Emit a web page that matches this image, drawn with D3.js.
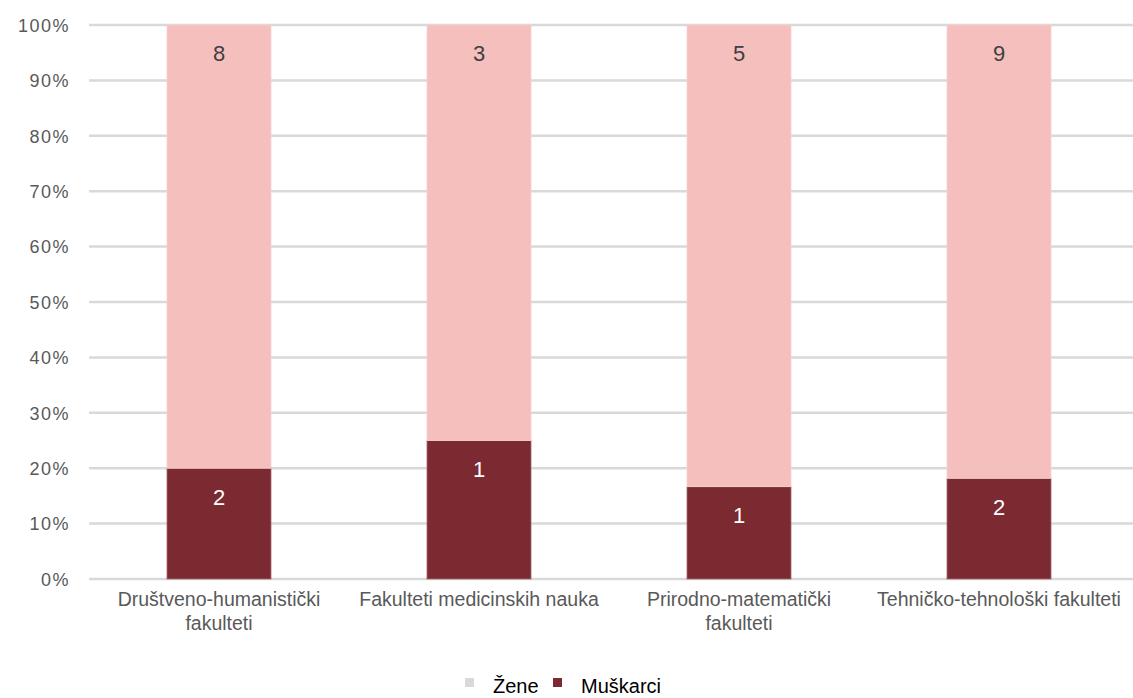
<html>
<head>
<title>Fakulteti</title>
<style>
body { margin: 0; background: #fff; }
.tick text { font-family: "Liberation Sans", Arial, sans-serif; }
</style>
<script src="https://d3js.org/d3.v7.min.js"></script>
</head>
<body>
<div id="chart"></div>
<script>
// data
var categories = ["Društveno-humanistički fakulteti", "Fakulteti medicinskih nauka", "Prirodno-matematički fakulteti", "Tehničko-tehnološki fakulteti"];
var categoryLines = [["Društveno-humanistički", "fakulteti"], ["Fakulteti medicinskih nauka"], ["Prirodno-matematički", "fakulteti"], ["Tehničko-tehnološki fakulteti"]];
var zene = [8, 3, 5, 9];
var muskarci = [2, 1, 1, 2];
var seriesNames = ["Žene", "Muškarci"];
var yTicks = [0, 0.1, 0.2, 0.3, 0.4, 0.5, 0.6, 0.7, 0.8, 0.9, 1];

var W = 1133, H = 698;
var margin = {top: 25, right: 4, bottom: 119, left: 89};
var width = W - margin.left - margin.right;
var height = H - margin.top - margin.bottom;

var narrow = "'Liberation Sans Narrow', 'Arial Narrow', 'Liberation Sans', sans-serif";

var svg = d3.select("#chart").append("svg")
  .attr("width", W).attr("height", H)
  .append("g")
  .attr("transform", "translate(" + margin.left + "," + margin.top + ")");

var x = d3.scaleBand().domain(categories).range([0, 1040]).paddingInner(0.6).paddingOuter(0.3);
var y = d3.scaleLinear().domain([0, 1]).range([height, 0]);

// gridlines
svg.selectAll("line.grid").data(yTicks).enter().append("line")
  .attr("class", "grid")
  .attr("x1", 0).attr("x2", width + 10)
  .attr("y1", function(d){ return y(d); })
  .attr("y2", function(d){ return y(d); })
  .attr("stroke", "#d9d9d9").attr("stroke-width", 2.5);

// y axis
var yAxis = svg.append("g")
  .call(d3.axisLeft(y).tickValues(yTicks).tickFormat(d3.format(".0%")).tickSize(0).tickPadding(19));
yAxis.select(".domain").remove();
yAxis.selectAll("text").attr("fill", "#595959").style("font-size", "18px").style("letter-spacing", "1.5px").attr("dy", "0.35em");

var rows = categories.map(function(c, i){
  var t = zene[i] + muskarci[i];
  return {cat: c, m: muskarci[i], z: zene[i], mp: muskarci[i] / t};
});

// Muškarci (bottom)
svg.selectAll("rect.m").data(rows).enter().append("rect")
  .attr("x", function(d){ return x(d.cat); })
  .attr("width", x.bandwidth())
  .attr("y", function(d){ return y(d.mp); })
  .attr("height", function(d){ return y(0) - y(d.mp); })
  .attr("fill", "#7b2a31").attr("stroke", "#a8676b").attr("stroke-width", 0.8);

// Žene (top)
svg.selectAll("rect.z").data(rows).enter().append("rect")
  .attr("x", function(d){ return x(d.cat); })
  .attr("width", x.bandwidth())
  .attr("y", y(1))
  .attr("height", function(d){ return y(d.mp) - y(1); })
  .attr("fill", "#f5bfbe").attr("stroke", "#f7d3d2").attr("stroke-width", 0.8);

// labels
svg.selectAll("text.zl").data(rows).enter().append("text")
  .attr("x", function(d){ return x(d.cat) + x.bandwidth() / 2; })
  .attr("y", y(1) + 28)
  .attr("dy", "0.35em")
  .attr("text-anchor", "middle")
  .attr("fill", "#404040")
  .style("font-family", "'Liberation Sans', Arial, sans-serif")
  .style("font-size", "22px")
  .text(function(d){ return d.z; });

svg.selectAll("text.ml").data(rows).enter().append("text")
  .attr("x", function(d){ return x(d.cat) + x.bandwidth() / 2; })
  .attr("y", function(d){ return y(d.mp) + 29; })
  .attr("dy", "0.35em")
  .attr("text-anchor", "middle")
  .attr("fill", "#ffffff")
  .style("font-family", "'Liberation Sans', Arial, sans-serif")
  .style("font-size", "22px")
  .text(function(d){ return d.m; });

// category labels
var catG = svg.selectAll("text.cat").data(categories).enter().append("text")
  .attr("x", function(d){ return x(d) + x.bandwidth() / 2; })
  .attr("y", height + 27)
  .attr("text-anchor", "middle")
  .attr("fill", "#595959")
  .style("font-family", narrow)
  .style("font-size", "19.5px");
catG.each(function(d, i){
  var t = d3.select(this);
  categoryLines[i].forEach(function(line, j){
    t.append("tspan").attr("x", x(d) + x.bandwidth() / 2).attr("dy", j === 0 ? 0 : 24).text(line);
  });
});

// legend
var legend = svg.append("g").attr("transform", "translate(" + (465 - margin.left) + "," + (H - margin.top - 12) + ")");
var legColors = ["#d9d9d9", "#7b2a31"];
var legX = [0, 88];
seriesNames.forEach(function(s, i){
  legend.append("rect").attr("x", legX[i]).attr("y", -8).attr("width", 9).attr("height", 9).attr("fill", legColors[i]);
  legend.append("text").attr("x", legX[i] + 28).attr("y", 0).attr("dy", "0.35em")
    .attr("fill", "#000").style("font-family", narrow).style("font-size", "20px").text(s);
});
</script>
</body>
</html>
